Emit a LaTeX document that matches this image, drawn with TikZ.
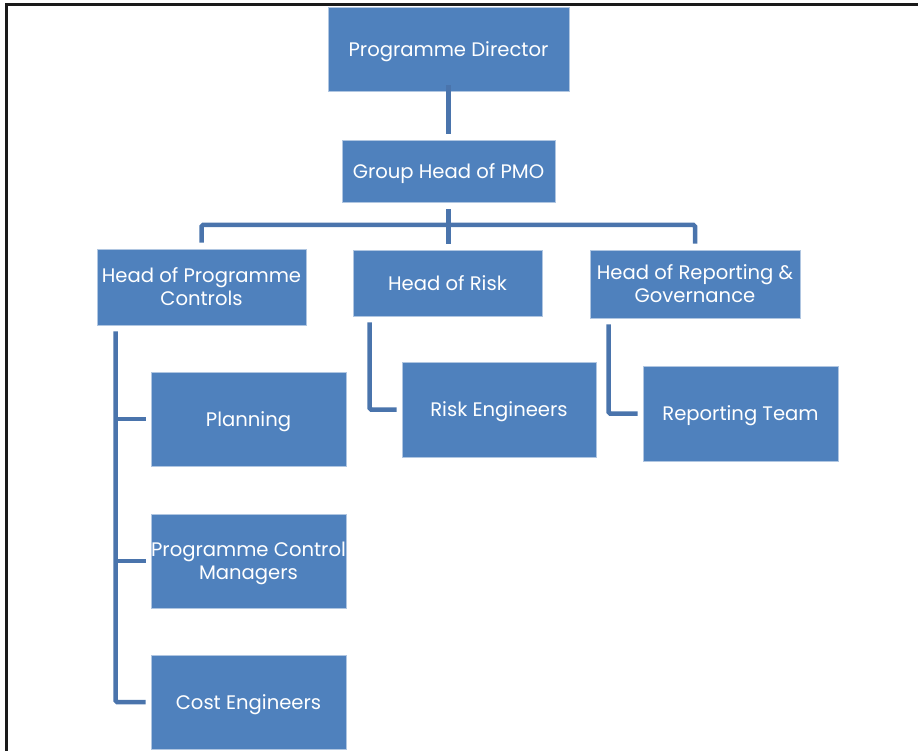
\documentclass[tikz,border=0pt]{standalone}
\usepackage{fontspec}
\setmainfont{Poppins}
\definecolor{boxblue}{HTML}{4F81BD}
\definecolor{lineblue}{HTML}{4A74AC}
\definecolor{frameink}{HTML}{1A1A1A}
\begin{document}
\begin{tikzpicture}[x=1pt,y=-1pt,
  box/.style={rectangle, fill=boxblue, draw=boxblue!45!white, line width=0.8pt,
    text=white, align=center, inner sep=0pt, text depth=0pt,
    font=\fontsize{19.6}{23}\selectfont},
  conn/.style={draw=lineblue, line width=4.5pt, rounded corners=1.5pt}]
\useasboundingbox (0,0) rectangle (918,751);
% page frame
\draw[frameink, line width=3pt] (6.5,751) -- (6.5,5) -- (918,5);

% top of the hierarchy
\node[box, minimum width=241, minimum height=84] (pd)  at (448.5,49)  {Programme Director};
\node[box, minimum width=213, minimum height=62] (gh)  at (448.5,171) {Group Head of PMO};

% heads of function
\node[box, minimum width=209, minimum height=76] (hpc) at (201.5,287) {Head of Programme\\Controls};
\node[box, minimum width=189, minimum height=66] (hr)  at (447.5,283) {Head of Risk};
\node[box, minimum width=210, minimum height=68] (hrg) at (695,284)   {Head of Reporting \&\\Governance};

% teams
\node[box, minimum width=195, minimum height=94] (pl)  at (248.5,419) {Planning};
\node[box, minimum width=195, minimum height=94] (pcm) at (248.5,561) {Programme Control\\Managers};
\node[box, minimum width=195, minimum height=94] (ce)  at (248.5,702) {Cost Engineers};
\node[box, minimum width=194, minimum height=95] (re)  at (499,409.5) {Risk Engineers};
\node[box, minimum width=195, minimum height=95] (rt)  at (740.5,413.5) {Reporting Team};

% connectors
\coordinate (bus) at (448.5,225);
\draw[conn, shorten <=6pt, shorten >=6pt] (pd.south) -- (gh.south |- pd.south) -- (gh.north);
\draw[conn, shorten <=7pt, shorten >=6pt] (gh.south) -- (gh.south |- bus) -| (hpc.north);
\draw[conn, shorten <=7pt, shorten >=6pt] (gh.south) -- (gh.south |- bus) -| (hrg.north);
\draw[conn, shorten <=7pt, shorten >=6pt] (gh.south) -- (gh.south |- hr.north);

% programme controls trunk
\coordinate (trunk) at ([xshift=19pt]hpc.south west);
\draw[conn, shorten <=6pt, shorten >=5pt] (trunk) |- (ce.west);
\draw[conn, shorten >=5pt] (trunk |- pl.west) -- (pl.west);
\draw[conn, shorten >=5pt] (trunk |- pcm.west) -- (pcm.west);

% risk and reporting
\draw[conn, shorten <=6pt, shorten >=5pt] ([xshift=17pt]hr.south west) |- (re.west);
\draw[conn, shorten <=6pt, shorten >=5pt] ([xshift=19pt]hrg.south west) |- (rt.west);
\end{tikzpicture}
\end{document}
